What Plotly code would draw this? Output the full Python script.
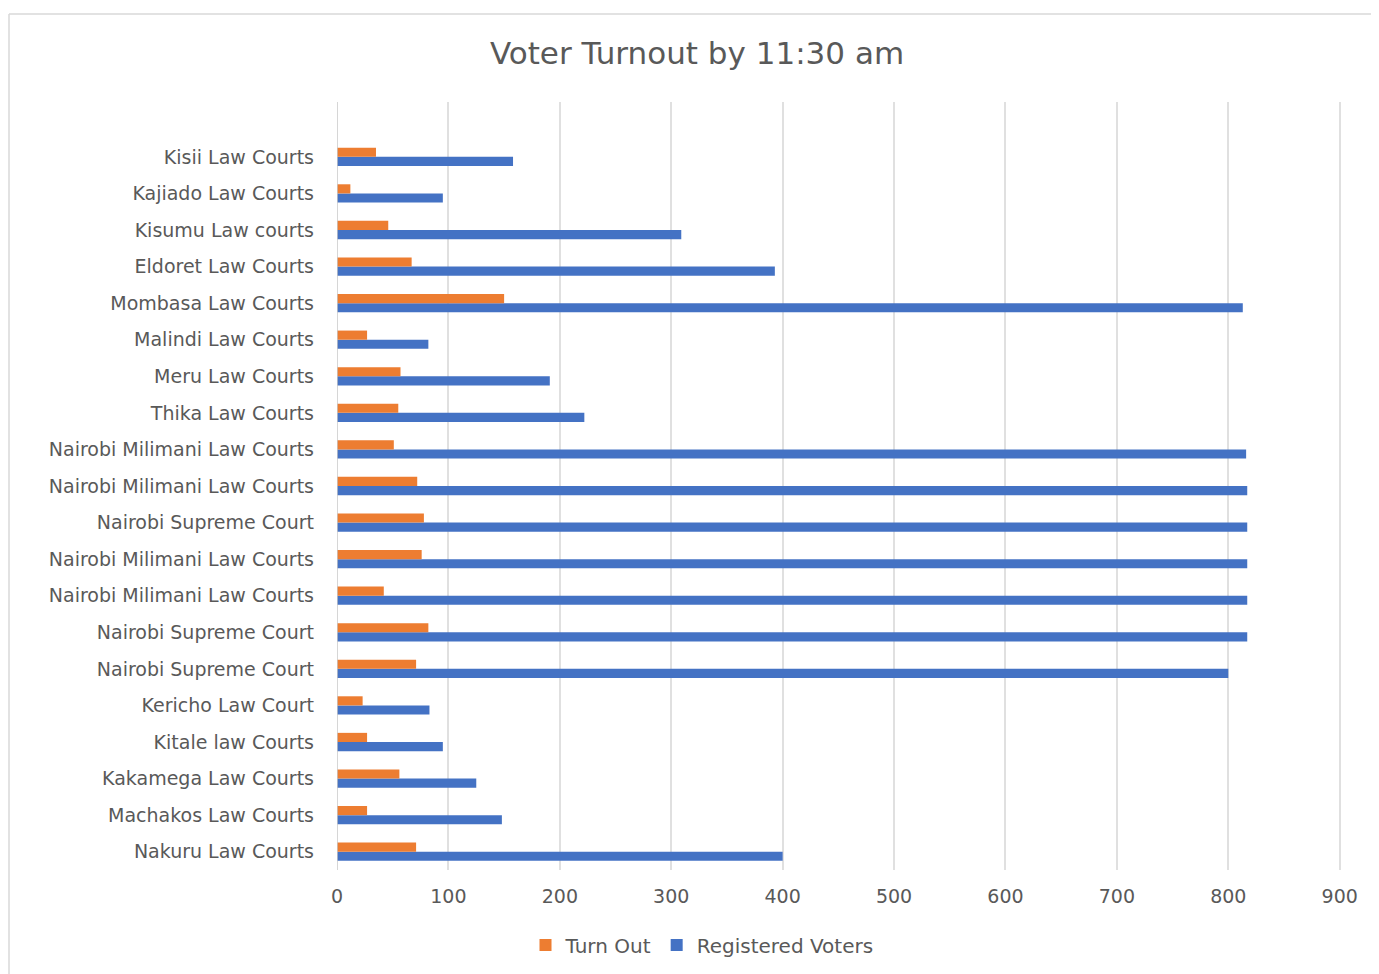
import plotly.graph_objects as go

categories = [
    "Nakuru Law Courts", "Machakos Law Courts", "Kakamega Law Courts", "Kitale law Courts",
    "Kericho Law Court", "Nairobi Supreme Court", "Nairobi Supreme Court",
    "Nairobi Milimani Law Courts", "Nairobi Milimani Law Courts", "Nairobi Supreme Court",
    "Nairobi Milimani Law Courts", "Nairobi Milimani Law Courts", "Thika Law Courts",
    "Meru Law Courts", "Malindi Law Courts", "Mombasa Law Courts", "Eldoret Law Courts",
    "Kisumu Law courts", "Kajiado Law Courts", "Kisii Law Courts",
]
turn_out = [71, 27, 56, 27, 23, 71, 82, 42, 76, 78, 72, 51, 55, 57, 27, 150, 67, 46, 12, 35]
registered = [400, 148, 125, 95, 83, 800, 817, 817, 817, 817, 817, 816, 222, 191, 82, 813, 393, 309, 95, 158]
x_ticks = [0, 100, 200, 300, 400, 500, 600, 700, 800, 900]

positions = list(range(len(categories)))

OFF = 8  # default page body margin
W, H = 1379 - OFF, 974 - OFF
L, R, T, B = 337 - OFF, 17, 102 - OFF, 104
pw, ph = W - L - R, H - T - B

fig = go.Figure()
fig.add_trace(go.Bar(
    y=positions, x=registered, orientation="h", name="Registered Voters",
    marker=dict(color="#4472C4", line=dict(width=0)), legendrank=2,
))
fig.add_trace(go.Bar(
    y=positions, x=turn_out, orientation="h", name="Turn Out",
    marker=dict(color="#ED7D31", line=dict(width=0)), legendrank=1,
))

grey = "#595959"
FONT = "DejaVu Sans, Verdana, sans-serif"
fig.update_layout(
    width=W, height=H,
    margin=dict(l=L, r=R, t=T, b=B),
    paper_bgcolor="white", plot_bgcolor="white",
    barmode="group", bargap=0.5, bargroupgap=0,
    font=dict(family=FONT, color=grey, size=18),
    title=dict(text="Voter Turnout by 11:30 am", x=(697 - OFF) / W, xref="container", xanchor="center",
               y=1 - (53 - OFF) / H, yref="container", yanchor="middle",
               font=dict(size=31, color=grey, family=FONT)),
    legend=dict(orientation="h", x=(702 - OFF) / W, xref="container", xanchor="center",
                y=1 - (945 - OFF) / H, yref="container", yanchor="middle",
                font=dict(size=20, color=grey, family=FONT), itemwidth=30, tracegroupgap=0),
    showlegend=True,
)
fig.update_xaxes(
    range=[0, 920], tickvals=x_ticks, showgrid=True, gridcolor="#e0e0e0", gridwidth=2,
    zeroline=False, showline=False, ticks="", tickfont=dict(size=19, color=grey, family=FONT),
    ticklabelstandoff=13,
)
fig.update_yaxes(
    range=[-0.5, 20.5], tickvals=positions, ticktext=categories, showgrid=False,
    zeroline=False, showline=False, ticks="", tickfont=dict(size=19, color=grey, family=FONT),
    ticklabelstandoff=22,
)
# vertical axis line at x=0
fig.add_shape(type="line", xref="x", yref="paper", x0=0, x1=0, y0=0, y1=1,
              line=dict(color="#c8c8c8", width=1.5))
# chart border (left and top edges)
bx = (9 - 337) / pw
by = (974 - 104 - 14) / ph
fig.add_shape(type="line", xref="paper", yref="paper", x0=bx, x1=(W - L) / pw + 0.01, y0=by, y1=by,
              line=dict(color="#d9d9d9", width=1.5))
fig.add_shape(type="line", xref="paper", yref="paper", x0=bx, x1=bx, y0=by, y1=-B / ph - 0.01,
              line=dict(color="#d9d9d9", width=1.5))

fig.write_html("out.html")
